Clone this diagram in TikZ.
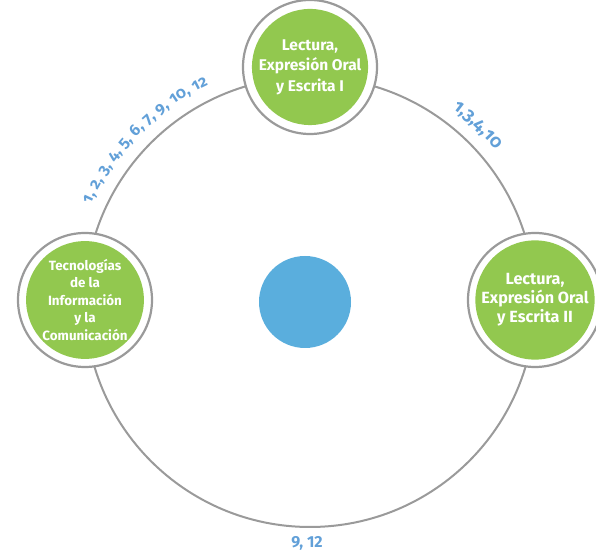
\documentclass[tikz,border=0pt]{standalone}
\usepackage{fontspec}
\setmainfont{Fira Sans}
\newfontfamily\lblfont[Numbers=OldStyle]{Fira Sans}
\usetikzlibrary{decorations.text}
\definecolor{ringgray}{HTML}{9A9A9A}
\definecolor{leafgreen}{HTML}{92C84F}
\definecolor{midblue}{HTML}{5AAEDD}
\definecolor{lblblue}{HTML}{62A0D8}
\tikzset{
  ring/.style={circle, draw=ringgray, line width=2.2pt, fill=white, minimum size=134pt, inner sep=0pt},
  subj/.style={circle, fill=leafgreen, minimum size=114pt, inner sep=0pt, text=white, font=\bfseries\fontsize{15.5}{20.5}\selectfont, align=center},
  subjbig/.style={subj, font=\bfseries\fontsize{16.2}{19}\selectfont},
  subjsmall/.style={subj, font=\bfseries\fontsize{13.4}{17.5}\selectfont},
  lbl/.style={text=lblblue, font=\bfseries\fontsize{16}{18}\selectfont}
}
\begin{document}
\begin{tikzpicture}[x=1pt,y=1pt]
\useasboundingbox (0,0) rectangle (596,553);
\coordinate (c) at (310,251);
\draw[ringgray, line width=2pt] (c) circle[radius=225];
% nodes
\node[ring] (topring) at (310,486) {};
\node[subj] (top) at (topring) {Lectura,\\Expresión Oral\\y Escrita I};
\node[ring] (leftring) at (85,253) {};
\node[subjsmall] (left) at (leftring) {Tecnologías\\de la\\Información\\y la\\Comunicación};
\node[ring] (rightring) at (535,253) {};
\node[subjbig] (right) at (rightring) {Lectura,\\Expresión Oral\\y Escrita II};
\node[circle, fill=midblue, minimum size=92pt, inner sep=0pt] (hub) at (305,251) {};
% curved labels
\path[decorate, decoration={text along path, text align=fit to path,
  text={|\lblfont\bfseries\fontsize{16}{18}\selectfont\color{lblblue}|1, 2, 3, 4, 5, 6, 7, 9, 10, 12}}]
  (c) ++(156:240) arc[start angle=156, end angle=115, radius=240];
\path[decorate, decoration={text along path, text align=center,
  text={|\lblfont\bfseries\fontsize{18}{20}\selectfont\color{lblblue}|1,3,4,10}}]
  (c) ++(57:240) arc[start angle=57, end angle=36, radius=240];
\node[lbl] (bottomlbl) at (307,10) {9, 12};
\end{tikzpicture}
\end{document}
